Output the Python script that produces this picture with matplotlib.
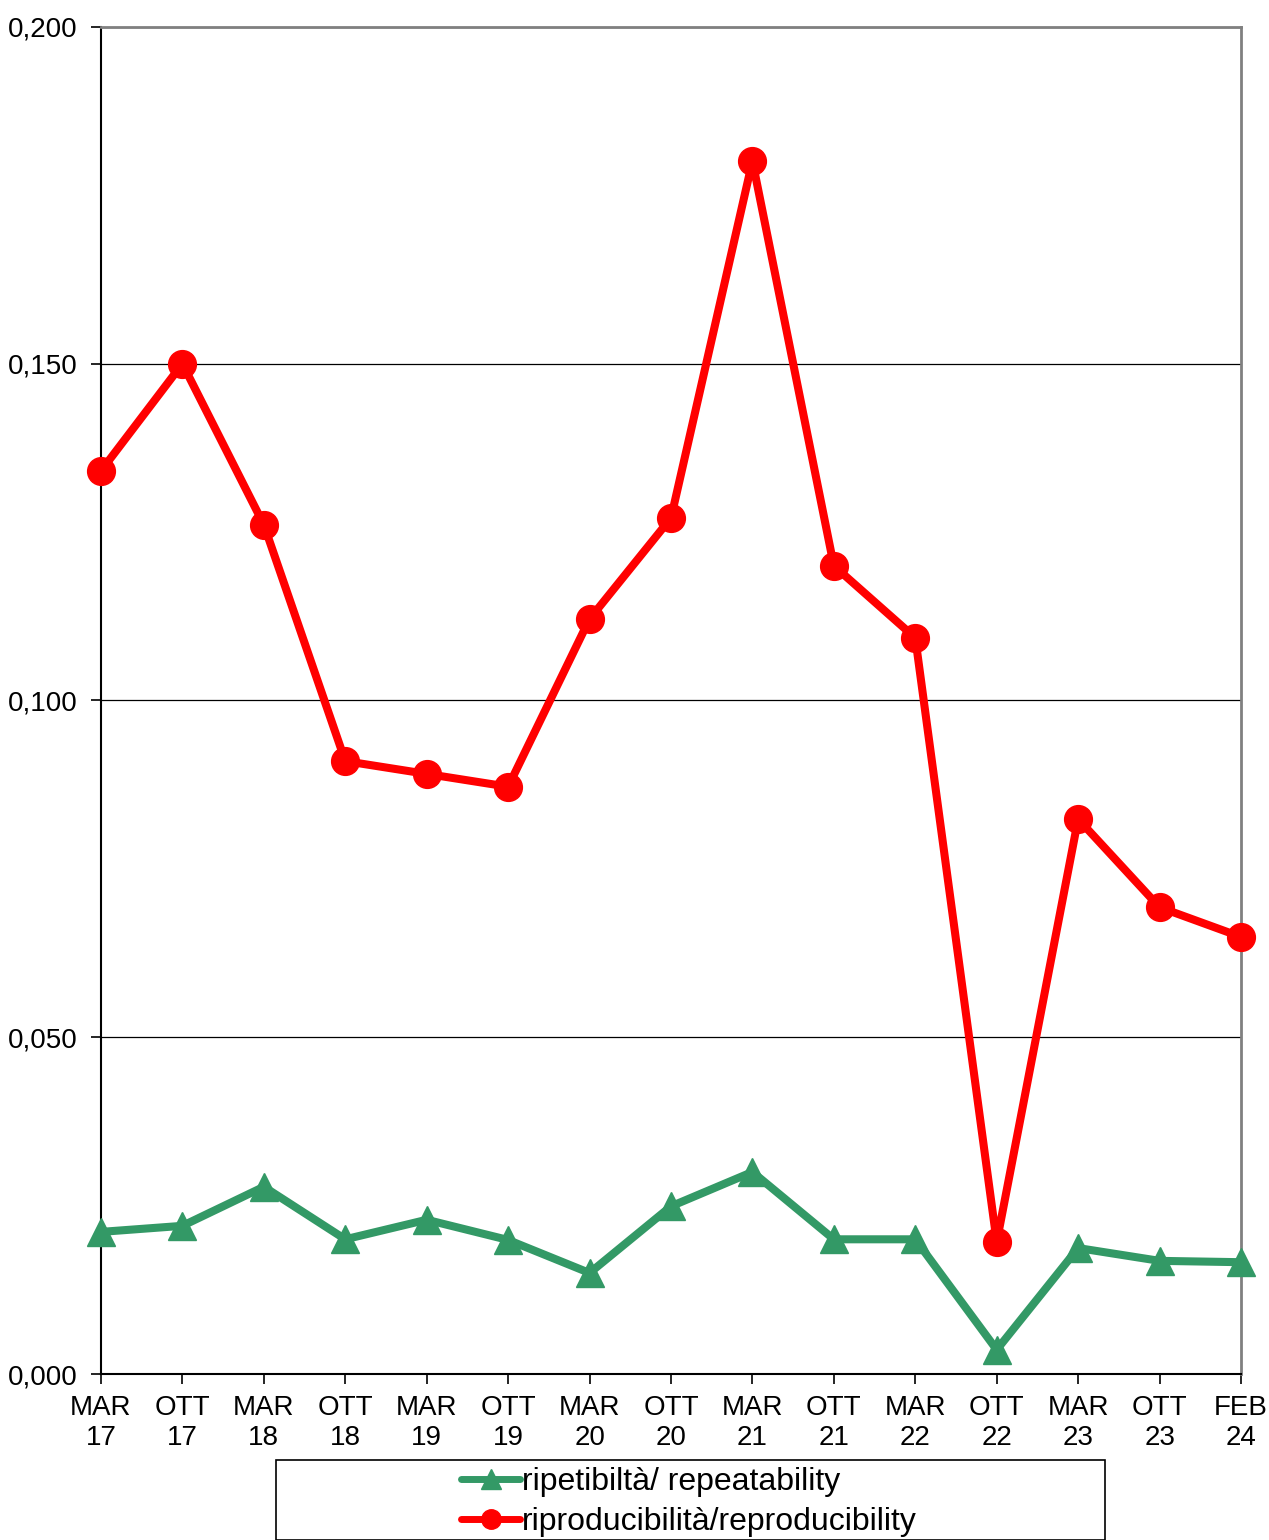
import matplotlib
matplotlib.use("Agg")
import matplotlib.pyplot as plt
from matplotlib.patches import Rectangle
from matplotlib.ticker import FuncFormatter, MultipleLocator

months = ["MAR", "OTT", "MAR", "OTT", "MAR", "OTT", "MAR", "OTT", "MAR", "OTT",
          "MAR", "OTT", "MAR", "OTT", "FEB"]
years = ["17", "17", "18", "18", "19", "19", "20", "20", "21", "21",
         "22", "22", "23", "23", "24"]
repeatability = [0.0211, 0.0220, 0.0278, 0.0200, 0.0229, 0.0199, 0.0150, 0.0249,
                 0.0300, 0.0200, 0.0200, 0.0036, 0.0187, 0.0168, 0.0166]
reproducibility = [0.1341, 0.1500, 0.1261, 0.0910, 0.0891, 0.0872, 0.1121, 0.1271,
                   0.1801, 0.1200, 0.1093, 0.0196, 0.0824, 0.0693, 0.0649]
labels = [f"{m}\n{y}" for m, y in zip(months, years)]
rep_label = "ripetibiltà/ repeatability"
repro_label = "riproducibilità/reproducibility"

plt.rcParams['font.family'] = ['Liberation Sans', 'DejaVu Sans']

W, H = 1269, 1540
fig = plt.figure(figsize=(W / 100, H / 100), dpi=100)
ax = fig.add_axes([101 / W, 1 - 1374 / H, (1241 - 101) / W, (1374 - 27) / H])

x = list(range(len(labels)))
l1, = ax.plot(x, repeatability, color="#339966", lw=5.8, marker="^", ms=20,
              label=rep_label, solid_joinstyle="round", solid_capstyle="round",
              zorder=3, clip_on=False)
l2, = ax.plot(x, reproducibility, color="#FF0000", lw=5.8, marker="o", ms=20,
              label=repro_label, solid_joinstyle="round", solid_capstyle="round",
              zorder=4, clip_on=False)

ax.set_xlim(0, len(labels) - 1)
ax.set_ylim(0, 0.2)
ax.yaxis.set_major_locator(MultipleLocator(0.05))
ax.yaxis.set_major_formatter(FuncFormatter(lambda v, p: f"{v:.3f}".replace(".", ",")))
ax.set_xticks(x)
ax.set_xticklabels(labels, fontsize=20, linespacing=1.22)
ax.tick_params(axis="y", labelsize=20, direction="out", length=7, width=1.2, pad=10)
ax.tick_params(axis="x", direction="out", length=7, width=1.2, pad=8)
ax.grid(axis="y", color="black", lw=0.9)
ax.set_axisbelow(True)
for s in ["top", "right"]:
    ax.spines[s].set_color("#808080")
    ax.spines[s].set_linewidth(2)
for s in ["left", "bottom"]:
    ax.spines[s].set_color("black")
    ax.spines[s].set_linewidth(1.5)

# legend frame
fig.patches.append(Rectangle((276 / W, 0), (1105 - 276) / W, (1540 - 1460) / H,
                             transform=fig.transFigure, fill=False,
                             edgecolor="black", lw=1.2))
leg = fig.legend(handles=[l1, l2], loc="center", bbox_to_anchor=(689 / W, 1 - 1502 / H),
                 frameon=False, fontsize=23, handlelength=1.85, handletextpad=0.05,
                 labelspacing=0.32, borderpad=0)
for h in leg.legend_handles:
    h.set_markersize(14)
    h.set_linewidth(5)

fig.savefig("out.png", dpi=100)
